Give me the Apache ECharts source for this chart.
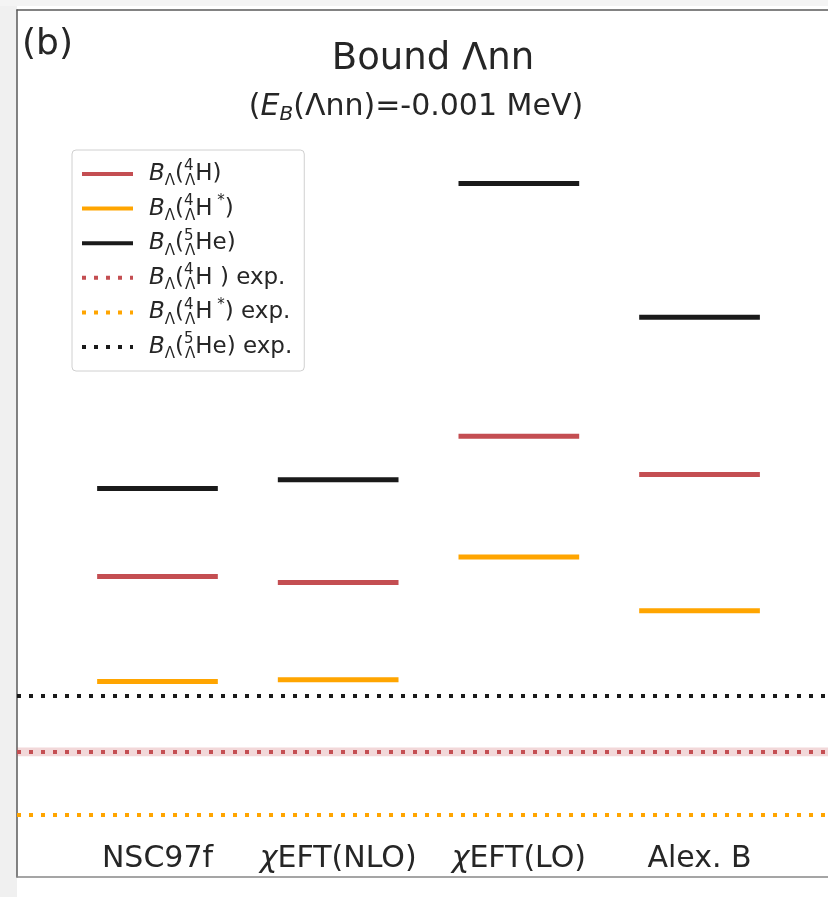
<!DOCTYPE html>
<html><head><meta charset="utf-8">
<script src="https://cdn.jsdelivr.net/npm/echarts@6/dist/echarts.min.js"></script>
<style>html,body{margin:0;padding:0;background:#fff}#c{width:828px;height:897px}</style>
</head><body><div id="c"></div>
<script>
// ---- data ----
const categories = ['NSC97f', 'χEFT(NLO)', 'χEFT(LO)', 'Alex. B'];
const B_4H     = [5.18, 5.08, 7.60, 6.94];
const B_4Hstar = [3.37, 3.40, 5.52, 4.59];
const B_5He    = [6.70, 6.85, 11.96, 9.65];
const exp_4H = 2.157, exp_4H_err = 0.077;
const exp_4Hstar = 1.067;
const exp_5He = 3.12;

// ---- layout constants ----
const XMIN = -0.7775, XMAX = 3.711, HALF = 0.334;
const FONT = 'DejaVu Sans';
const RED = '#c44e52', ORANGE = '#ffa500', BLACK = '#1a1a1a', TXT = '#262626';
const FRAME = '#5a5a5a';

function levels(vals) {
  const d = [];
  vals.forEach((v, i) => {
    d.push([i - HALF, v], [i + HALF, v]);
    if (i < vals.length - 1) d.push([i + 0.5, null]);
  });
  return d;
}
function hline(v) { return [[XMIN, v], [XMAX, v]]; }

const legendRich = {
  b:   { fontStyle: 'italic', fontSize: 23, fontFamily: FONT, color: TXT, lineHeight: 30 },
  n:   { fontSize: 23, fontFamily: FONT, color: TXT, lineHeight: 30 },
  sub: { fontSize: 15, fontFamily: FONT, color: TXT, verticalAlign: 'bottom', lineHeight: 15 },
  sup: { fontSize: 15, fontFamily: FONT, color: TXT, verticalAlign: 'top', lineHeight: 15, width: 1 },
  supr:{ fontSize: 15, fontFamily: FONT, color: TXT, verticalAlign: 'top', lineHeight: 15 }
};
const legendText = {
  'B4H':      '{b|B}{sub|Λ}{n|(}{sup|4}{sub|Λ}{n|H)}',
  'B4Hs':     '{b|B}{sub|Λ}{n|(}{sup|4}{sub|Λ}{n|H}{supr| *}{n|)}',
  'B5He':     '{b|B}{sub|Λ}{n|(}{sup|5}{sub|Λ}{n|He)}',
  'B4H exp':  '{b|B}{sub|Λ}{n|(}{sup|4}{sub|Λ}{n|H ) exp.}',
  'B4Hs exp': '{b|B}{sub|Λ}{n|(}{sup|4}{sub|Λ}{n|H}{supr| *}{n|) exp.}',
  'B5He exp': '{b|B}{sub|Λ}{n|(}{sup|5}{sub|Λ}{n|He) exp.}'
};

const lvl = (name, vals, color) => ({
  name, type: 'line', data: levels(vals), symbol: 'none', showSymbol: false, connectNulls: false,
  lineStyle: { color, width: 5, cap: 'butt' }, itemStyle: { color }, z: 5, silent: true
});
const expl = (name, v, color, extra) => Object.assign({
  name, type: 'line', data: hline(v), symbol: 'none', showSymbol: false,
  lineStyle: { color, width: 4, type: [4, 8], cap: 'butt' }, itemStyle: { color }, z: 4, silent: true
}, extra || {});

const chart = echarts.init(document.getElementById('c'), null, { renderer: 'canvas' });
chart.setOption({
  backgroundColor: '#ffffff',
  animation: false,
  graphic: [
    { type: 'rect', shape: { x: 0, y: 0, width: 17, height: 897 }, style: { fill: '#f0f0f0' }, z: -10 },
    { type: 'rect', shape: { x: 0, y: 0, width: 828, height: 6 }, style: { fill: '#f4f4f4' }, z: -10 }
  ],
  title: [
    { text: '(b)', left: 17, top: 22, textStyle: { fontFamily: FONT, fontSize: 36, fontWeight: 'normal', color: TXT } },
    { text: 'Bound Λnn', left: 428, top: 36, textAlign: 'center',
      textStyle: { fontFamily: FONT, fontSize: 37, fontWeight: 'normal', color: TXT } },
    { text: '{n|(}{i|E}{s|B}{n|(Λnn)=-0.001 MeV)}', left: 411, top: 84, textAlign: 'center',
      textStyle: { fontWeight: 'normal', rich: {
        n: { fontFamily: FONT, fontSize: 30, fontWeight: 'normal', color: TXT, lineHeight: 36 },
        i: { fontFamily: FONT, fontSize: 30, fontWeight: 'normal', fontStyle: 'italic', color: TXT, lineHeight: 36 },
        s: { fontFamily: FONT, fontSize: 20, fontWeight: 'normal', fontStyle: 'italic', color: TXT, verticalAlign: 'bottom', lineHeight: 20 }
      } } }
  ],
  legend: {
    orient: 'vertical', left: 72, top: 150,
    padding: [9, 12, 9, 8],
    itemWidth: 51, itemHeight: 14, itemGap: 4.6,
    backgroundColor: '#ffffff', borderColor: '#d0d0d0', borderWidth: 1, borderRadius: 4,
    data: ['B4H', 'B4Hs', 'B5He', 'B4H exp', 'B4Hs exp', 'B5He exp'],
    formatter: (name) => legendText[name],
    itemStyle: { opacity: 0 },
    lineStyle: { width: 4 },
    textStyle: { rich: legendRich, padding: [0, 0, 0, 11] },
    selectedMode: false
  },
  grid: { left: 17, top: 10, right: 0, height: 867, show: true,
          borderWidth: 0, backgroundColor: '#fff' },
  xAxis: [{
    type: 'value', min: XMIN, max: XMAX, position: 'bottom',
    axisLine: { show: true, onZero: false, lineStyle: { color: '#888', width: 1.5 } },
    axisTick: { show: false }, splitLine: { show: false },
    axisLabel: {
      customValues: [0, 1, 2, 3], inside: true, margin: 3,
      formatter: (v) => {
        const s = categories[Math.round(v)];
        return s.startsWith('χ') ? '{it|χ}{n|' + s.slice(1) + '}' : '{n|' + s + '}';
      },
      rich: {
        n: { fontFamily: FONT, fontSize: 30, color: TXT },
        it: { fontFamily: FONT, fontSize: 30, fontStyle: 'italic', color: TXT }
      }
    }
  }, {
    type: 'value', min: XMIN, max: XMAX, position: 'top',
    axisLine: { show: true, onZero: false, lineStyle: { color: FRAME, width: 1.5 } },
    axisTick: { show: false }, splitLine: { show: false }, axisLabel: { show: false }
  }],
  yAxis: { type: 'value', min: 0, max: 14.95, position: 'left',
    axisLine: { show: true, onZero: false, lineStyle: { color: FRAME, width: 1.5 } },
    axisTick: { show: false }, axisLabel: { show: false }, splitLine: { show: false } },
  series: [
    lvl('B4H', B_4H, RED),
    lvl('B4Hs', B_4Hstar, ORANGE),
    lvl('B5He', B_5He, BLACK),
    expl('B4H exp', exp_4H, RED, {
      markArea: { silent: true, itemStyle: { color: 'rgba(196,78,82,0.22)' },
        data: [[{ yAxis: exp_4H - exp_4H_err }, { yAxis: exp_4H + exp_4H_err }]] }
    }),
    expl('B4Hs exp', exp_4Hstar, ORANGE),
    expl('B5He exp', exp_5He, BLACK)
  ]
});
</script></body></html>
